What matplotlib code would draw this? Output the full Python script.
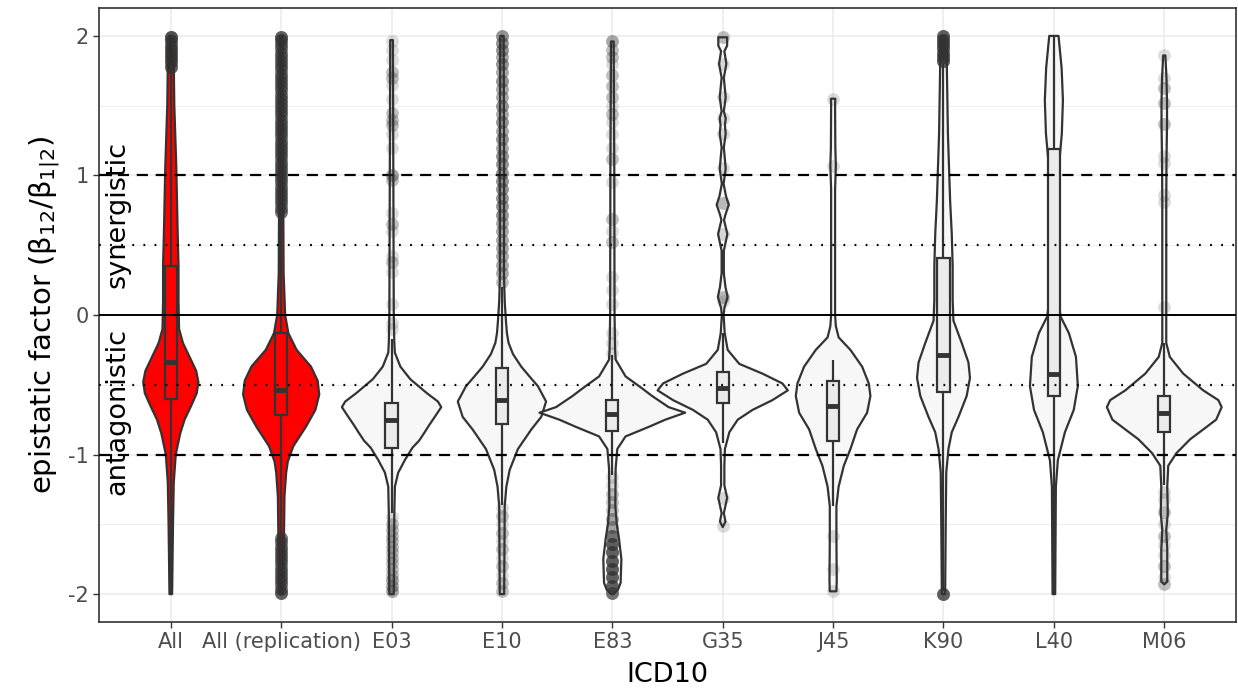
import numpy as np
import matplotlib.pyplot as plt
from matplotlib.patches import Rectangle

categories = ['All', 'All (replication)', 'E03', 'E10', 'E83',
              'G35', 'J45', 'K90', 'L40', 'M06']
fill_colors = ['#FF0000', '#FF0000'] + ['#F7F7F7'] * 8
box_colors = ['#FF0000', '#FF0000'] + ['#EBEBEB'] * 8

# violin outlines: (y, half width in category units)
all_prof = [(2.0, 0.015), (1.8, 0.027), (1.5, 0.032), (1.06, 0.05), (0.6, 0.062),
            (0.35, 0.07), (0.1, 0.07), (-0.1, 0.075), (-0.2, 0.11), (-0.3, 0.17),
            (-0.4, 0.23), (-0.48, 0.25), (-0.56, 0.235), (-0.65, 0.185),
            (-0.75, 0.125), (-0.85, 0.085), (-1.0, 0.045), (-1.2, 0.027),
            (-1.5, 0.02), (-2.0, 0.012)]
rep_prof = [(2.0, 0.012), (1.0, 0.018), (0.3, 0.022), (0.0, 0.036), (-0.13, 0.065),
            (-0.25, 0.14), (-0.37, 0.27), (-0.47, 0.33), (-0.57, 0.345),
            (-0.68, 0.31), (-0.8, 0.225), (-0.94, 0.11), (-1.05, 0.06),
            (-1.13, 0.045), (-1.3, 0.03), (-1.6, 0.025), (-2.0, 0.015)]
e03_prof = [(1.97, 0.012), (1.0, 0.016), (0.0, 0.02), (-0.2, 0.025), (-0.27, 0.03),
            (-0.37, 0.08), (-0.46, 0.17), (-0.52, 0.26), (-0.56, 0.32), (-0.62, 0.42),
            (-0.66, 0.45), (-0.72, 0.40), (-0.79, 0.34), (-0.84, 0.30), (-0.9, 0.25),
            (-0.95, 0.19), (-1.04, 0.12), (-1.13, 0.06), (-1.23, 0.03),
            (-1.42, 0.025), (-2.0, 0.02)]
e10_prof = [(2.0, 0.015), (1.0, 0.02), (0.3, 0.018), (0.1, 0.025), (-0.04, 0.036),
            (-0.13, 0.045), (-0.2, 0.06), (-0.28, 0.1), (-0.37, 0.175), (-0.45, 0.26),
            (-0.51, 0.326), (-0.62, 0.4), (-0.73, 0.356), (-0.82, 0.266),
            (-0.96, 0.145), (-1.11, 0.07), (-1.23, 0.04), (-1.37, 0.025), (-2.0, 0.02)]
e83_prof = [(1.96, 0.012), (1.0, 0.018), (0.0, 0.02), (-0.25, 0.025), (-0.32, 0.03),
            (-0.44, 0.12), (-0.52, 0.26), (-0.58, 0.36), (-0.66, 0.51), (-0.7, 0.66),
            (-0.75, 0.48), (-0.8, 0.335), (-0.87, 0.12), (-0.96, 0.045), (-1.1, 0.03),
            (-1.37, 0.027), (-1.5, 0.04), (-1.6, 0.06), (-1.75, 0.082), (-1.92, 0.075),
            (-1.97, 0.05), (-2.0, 0.01)]
g35_prof = [(1.99, 0.04), (1.93, 0.04), (1.89, 0.015), (1.8, 0.033), (1.7, 0.01),
            (1.56, 0.027), (1.46, 0.01), (1.41, 0.027), (1.36, 0.02), (1.3, 0.027),
            (1.2, 0.01), (1.05, 0.027), (0.94, 0.008), (0.85, 0.03), (0.79, 0.055),
            (0.72, 0.025), (0.68, 0.012), (0.58, 0.042), (0.46, 0.01), (0.3, 0.01),
            (0.2, 0.025), (0.13, 0.044), (0.05, 0.015), (0.0, 0.008), (-0.13, 0.018),
            (-0.25, 0.045), (-0.35, 0.15), (-0.42, 0.36), (-0.49, 0.54), (-0.54, 0.59),
            (-0.61, 0.45), (-0.68, 0.27), (-0.75, 0.136), (-0.84, 0.06), (-0.96, 0.02),
            (-1.08, 0.015), (-1.22, 0.015), (-1.31, 0.04), (-1.42, 0.01),
            (-1.48, 0.025), (-1.52, 0.0)]
j45_prof = [(1.55, 0.02), (1.5, 0.018), (1.2, 0.02), (1.07, 0.025), (0.9, 0.018),
            (0.5, 0.018), (0.0, 0.018), (-0.08, 0.025), (-0.16, 0.05), (-0.25, 0.157),
            (-0.37, 0.263), (-0.49, 0.323), (-0.58, 0.338), (-0.7, 0.308),
            (-0.82, 0.217), (-0.96, 0.157), (-1.08, 0.097), (-1.23, 0.05),
            (-1.37, 0.03), (-1.6, 0.03), (-1.9, 0.033), (-1.98, 0.03)]
k90_prof = [(2.0, 0.02), (1.8, 0.03), (1.3, 0.04), (0.82, 0.06), (0.58, 0.075),
            (0.35, 0.083), (0.11, 0.083), (-0.04, 0.09), (-0.2, 0.165), (-0.34, 0.226),
            (-0.45, 0.24), (-0.58, 0.21), (-0.73, 0.136), (-0.84, 0.075),
            (-0.96, 0.045), (-1.13, 0.025), (-1.5, 0.02), (-2.0, 0.015)]
l40_prof = [(2.0, 0.042), (1.77, 0.07), (1.54, 0.082), (1.3, 0.072), (1.06, 0.045),
            (0.82, 0.032), (0.59, 0.022), (0.3, 0.03), (0.1, 0.045), (-0.01, 0.06),
            (-0.13, 0.136), (-0.3, 0.2), (-0.51, 0.217), (-0.68, 0.18), (-0.84, 0.1),
            (-1.04, 0.036), (-1.23, 0.018), (-2.0, 0.012)]
m06_prof = [(1.86, 0.01), (1.7, 0.02), (1.52, 0.025), (1.37, 0.025), (1.1, 0.02),
            (0.8, 0.018), (0.06, 0.018), (-0.2, 0.018), (-0.3, 0.05), (-0.42, 0.172),
            (-0.54, 0.353), (-0.61, 0.49), (-0.66, 0.52), (-0.75, 0.47), (-0.82, 0.353),
            (-0.89, 0.235), (-0.99, 0.11), (-1.08, 0.036), (-1.23, 0.027),
            (-1.42, 0.032), (-1.54, 0.018), (-1.68, 0.027), (-1.91, 0.027), (-1.93, 0.0)]
profiles = [all_prof, rep_prof, e03_prof, e10_prof, e83_prof,
            g35_prof, j45_prof, k90_prof, l40_prof, m06_prof]

# boxplot statistics
q1 = [-0.60, -0.72, -0.95, -0.78, -0.83, -0.63, -0.90, -0.55, -0.58, -0.84]
med = [-0.34, -0.54, -0.75, -0.61, -0.71, -0.52, -0.65, -0.29, -0.42, -0.70]
q3 = [0.35, -0.13, -0.63, -0.38, -0.61, -0.41, -0.47, 0.41, 1.19, -0.58]
wlo = [-2.0, -1.58, -1.42, -1.36, -1.15, -0.92, -1.37, -1.98, -2.0, -1.22]
whi = [1.77, 0.74, -0.17, 0.20, -0.29, -0.13, -0.32, 1.80, 2.0, -0.20]

# outliers: (y, how many stacked there)
all_out = [(1.78, 8), (1.81, 8), (1.84, 8), (1.87, 8), (1.9, 8), (1.93, 8),
           (1.96, 8), (1.99, 10)]
rep_out = [(0.74, 6), (0.77, 6), (0.8, 6), (0.83, 6), (0.86, 6), (0.89, 6),
           (0.92, 6), (0.95, 6), (0.98, 6), (1.01, 6), (1.04, 6), (1.07, 6),
           (1.1, 6), (1.13, 6), (1.16, 6), (1.19, 6), (1.22, 6), (1.25, 6),
           (1.28, 6), (1.31, 6), (1.34, 6), (1.37, 6), (1.4, 6), (1.43, 6),
           (1.46, 6), (1.49, 6), (1.52, 6), (1.55, 6), (1.58, 6), (1.61, 6),
           (1.64, 6), (1.67, 6), (1.7, 6), (1.73, 6), (1.76, 6), (1.79, 6),
           (1.82, 6), (1.85, 6), (1.88, 6), (1.91, 6), (1.94, 6), (1.97, 6), (1.99, 8),
           (-1.6, 6), (-1.63, 6), (-1.66, 6), (-1.69, 6), (-1.72, 6), (-1.75, 6),
           (-1.78, 6), (-1.81, 6), (-1.84, 6), (-1.87, 6), (-1.9, 6), (-1.93, 6),
           (-1.96, 6), (-1.99, 8)]
e03_out = [(1.96, 1), (1.9, 1), (1.83, 1), (1.74, 2), (1.7, 2), (1.65, 1), (1.55, 1),
           (1.45, 2), (1.4, 2), (1.36, 2), (1.3, 1), (1.2, 1), (1.0, 3), (0.97, 2),
           (0.73, 1), (0.65, 2), (0.6, 1), (0.42, 1), (0.38, 2), (0.31, 1), (0.08, 1),
           (-0.06, 1), (-0.1, 1),
           (-1.45, 1), (-1.5, 2), (-1.54, 2), (-1.58, 2), (-1.62, 2), (-1.66, 2),
           (-1.7, 2), (-1.74, 2), (-1.78, 2), (-1.82, 2), (-1.86, 2), (-1.9, 3),
           (-1.94, 3), (-1.98, 3)]
e10_out = [(2.0, 4), (1.95, 4), (1.9, 4), (1.85, 3), (1.8, 4), (1.74, 3), (1.68, 4),
           (1.62, 3), (1.56, 3), (1.5, 4), (1.44, 3), (1.38, 4), (1.32, 3), (1.26, 4),
           (1.2, 3), (1.14, 4), (1.08, 4), (1.02, 4), (0.96, 4), (0.9, 4), (0.84, 4),
           (0.78, 4), (0.72, 4), (0.66, 3), (0.6, 3), (0.54, 3), (0.48, 3), (0.42, 3),
           (0.36, 3), (0.3, 3), (0.24, 2),
           (-1.38, 1), (-1.44, 2), (-1.5, 1), (-1.56, 2), (-1.62, 1), (-1.68, 2),
           (-1.74, 1), (-1.8, 2), (-1.86, 1), (-1.92, 2), (-1.98, 2)]
e83_out = [(1.96, 3), (1.9, 2), (1.85, 2), (1.8, 1), (1.72, 2), (1.64, 2), (1.56, 2),
           (1.5, 1), (1.44, 2), (1.38, 1), (1.3, 1), (1.2, 1), (1.12, 2), (0.95, 1),
           (0.69, 2), (0.6, 1), (0.52, 2), (0.27, 1), (0.18, 1), (0.08, 1),
           (-0.13, 1), (-0.2, 1), (-0.27, 1),
           (-1.16, 1), (-1.22, 1), (-1.28, 2), (-1.34, 2), (-1.4, 2), (-1.46, 3),
           (-1.52, 3), (-1.58, 6), (-1.64, 8), (-1.7, 8), (-1.76, 8), (-1.82, 8),
           (-1.88, 8), (-1.94, 8), (-1.99, 6)]
g35_out = [(1.99, 2), (1.8, 1), (1.56, 1), (1.41, 1), (1.3, 1), (1.05, 1), (0.8, 2),
           (0.58, 1), (0.13, 2), (0.1, 1), (-1.31, 1), (-1.51, 1)]
j45_out = [(1.55, 1), (1.07, 1), (-1.58, 1), (-1.82, 1), (-1.98, 1)]
k90_out = [(1.82, 8), (1.85, 8), (1.88, 8), (1.91, 8), (1.94, 8), (1.97, 8),
           (2.0, 8), (-2.0, 8)]
l40_out = []
m06_out = [(1.86, 1), (1.7, 1), (1.63, 2), (1.52, 2), (1.37, 2), (1.14, 1), (1.09, 1),
           (0.86, 1), (0.81, 1), (0.06, 1),
           (-1.27, 1), (-1.32, 1), (-1.41, 2), (-1.5, 1), (-1.58, 2), (-1.65, 1),
           (-1.72, 1), (-1.8, 2), (-1.88, 1), (-1.93, 2)]
outliers = [all_out, rep_out, e03_out, e10_out, e83_out,
            g35_out, j45_out, k90_out, l40_out, m06_out]

ink = '#333333'

fig = plt.figure(figsize=(12.38, 6.89), dpi=100)
ax = fig.add_axes([0.080, 0.0972, 0.9184, 0.8912])

xs = np.arange(1, len(categories) + 1)

# grid
for v in [-2, -1, 0, 1, 2]:
    ax.axhline(v, color='#EBEBEB', lw=1.1, zorder=0)
for v in [-1.5, -0.5, 0.5, 1.5]:
    ax.axhline(v, color='#EBEBEB', lw=0.6, zorder=0)
for x in xs:
    ax.axvline(x, color='#EBEBEB', lw=1.1, zorder=0)

for i, x in enumerate(xs):
    prof = np.array(profiles[i])
    yy, ww = prof[:, 0], prof[:, 1]
    px = np.concatenate([x + ww, (x - ww)[::-1]])
    py = np.concatenate([yy, yy[::-1]])
    ax.fill(px, py, facecolor=fill_colors[i], edgecolor=ink, lw=1.6,
            joinstyle='round', zorder=2)

    # box
    ax.vlines(x, wlo[i], q1[i], color=ink, lw=1.6, zorder=3)
    ax.vlines(x, q3[i], whi[i], color=ink, lw=1.6, zorder=3)
    ax.add_patch(Rectangle((x - 0.055, q1[i]), 0.11, q3[i] - q1[i],
                           facecolor=box_colors[i], edgecolor=ink, lw=1.6, zorder=3))
    ax.hlines(med[i], x - 0.055, x + 0.055, color=ink, lw=3.5, zorder=4)

    if outliers[i]:
        o = np.array(outliers[i])
        oy = np.repeat(o[:, 0], o[:, 1].astype(int))
        ax.scatter(np.full(len(oy), x), oy, s=85, color=ink, alpha=0.17,
                   linewidths=0, zorder=5)

# reference lines
ax.axhline(1, color='black', lw=1.6, ls=(0, (5, 3.5)), zorder=4.5)
ax.axhline(-1, color='black', lw=1.6, ls=(0, (5, 3.5)), zorder=4.5)
ax.axhline(0.5, color='black', lw=1.6, ls=(0, (0.8, 4.2)), zorder=4.5)
ax.axhline(-0.5, color='black', lw=1.6, ls=(0, (0.8, 4.2)), zorder=4.5)
ax.axhline(0, color='black', lw=1.4, zorder=4.5)

ax.text(0.52, 0.72, 'synergistic', rotation=90, ha='center', va='center',
        fontsize=19.5, zorder=6)
ax.text(0.52, -0.69, 'antagonistic', rotation=90, ha='center', va='center',
        fontsize=19.5, zorder=6)

ax.set_xlim(0.35, 10.65)
ax.set_ylim(-2.2, 2.2)
ax.set_xticks(xs)
ax.set_xticklabels(categories)
ax.set_yticks([-2, -1, 0, 1, 2])
ax.set_yticklabels(['-2', '-1', '0', '1', '2'])
ax.tick_params(colors=ink, labelcolor='#4D4D4D', labelsize=15, length=4, width=1)
for s in ax.spines.values():
    s.set_color(ink)
    s.set_linewidth(1.2)

ax.set_xlabel('ICD10', fontsize=19.5, labelpad=7)
ax.set_ylabel(r'epistatic factor ($\mathregular{\beta_{12}/\beta_{1|2}}$)',
              fontsize=21, labelpad=4)

fig.savefig('out.png', dpi=100)
